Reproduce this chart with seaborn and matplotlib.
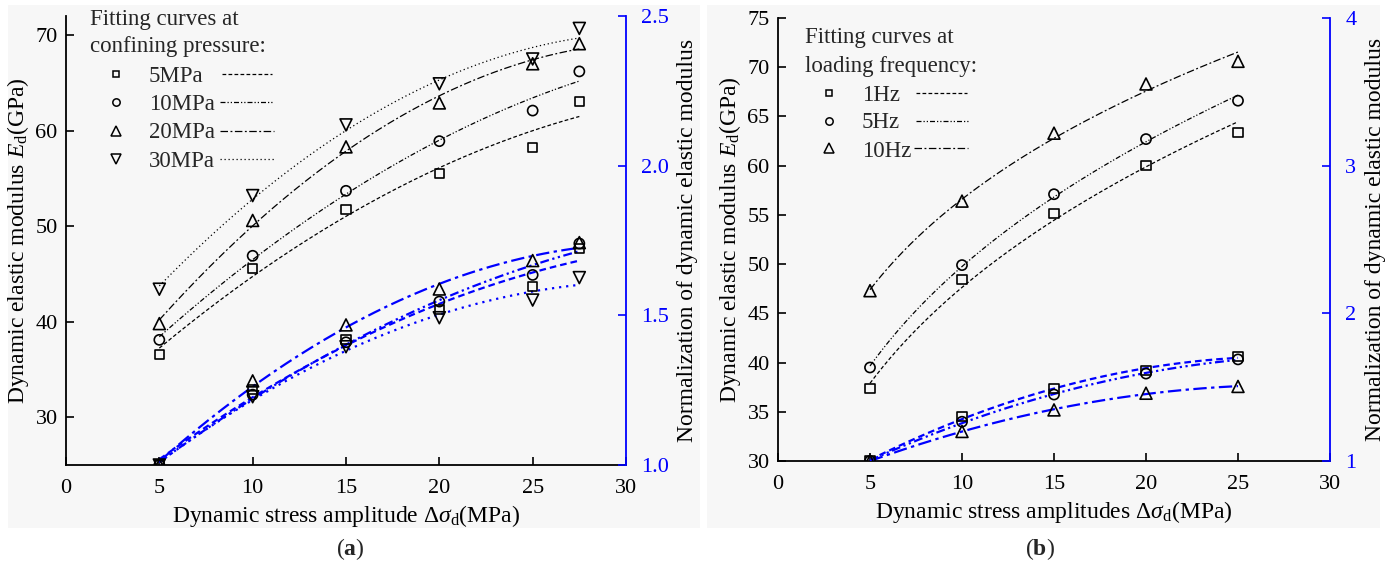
import numpy as np
import matplotlib
matplotlib.use("Agg")
import matplotlib.pyplot as plt
import seaborn as sns
from matplotlib.patches import Rectangle

# ---- (a) confining pressure series ----
stress_a = [5, 10, 15, 20, 25, 27.5]
pressure_labels = ["5MPa", "10MPa", "20MPa", "30MPa"]
ed_5mpa = [36.6, 45.6, 51.7, 55.5, 58.2, 63.0]
ed_10mpa = [38.1, 46.9, 53.7, 58.9, 62.1, 66.2]
ed_20mpa = [39.8, 50.6, 58.3, 62.9, 67.0, 69.1]
ed_30mpa = [43.4, 53.2, 60.6, 64.9, 67.5, 70.7]
norm_5mpa = [1.0, 1.253, 1.418, 1.518, 1.596, 1.724]
norm_10mpa = [1.0, 1.235, 1.410, 1.546, 1.635, 1.740]
norm_20mpa = [1.0, 1.281, 1.468, 1.588, 1.683, 1.743]
norm_30mpa = [1.0, 1.228, 1.395, 1.492, 1.551, 1.626]

# ---- (b) loading frequency series ----
stress_b = [5, 10, 15, 20, 25]
freq_labels = ["1Hz", "5Hz", "10Hz"]
ed_1hz = [37.4, 48.4, 55.1, 60.0, 63.4]
ed_5hz = [39.5, 49.9, 57.1, 62.7, 66.6]
ed_10hz = [47.3, 56.4, 63.3, 68.3, 70.6]
norm_1hz = [1.0, 1.300, 1.489, 1.615, 1.706]
norm_5hz = [1.0, 1.266, 1.450, 1.592, 1.688]
norm_10hz = [1.0, 1.200, 1.346, 1.459, 1.505]

BLUE = "#0000ff"
SERIF = "Liberation Serif"

sns.set_theme(style="ticks")
plt.rcParams["font.family"] = [SERIF, "DejaVu Serif"]
plt.rcParams["mathtext.fontset"] = "custom"
plt.rcParams["mathtext.rm"] = SERIF
plt.rcParams["mathtext.it"] = SERIF + ":italic"
plt.rcParams["mathtext.bf"] = SERIF + ":bold"

LABEL_FS = 17
TICK_FS = 16
KEY_FS = 16.5

# marker shape -> (scatter size pt, key marker size pt)
MARKERS = {
    "s": (6.5, 5.0),
    "o": (7.3, 5.3),
    "^": (8.6, 6.5),
    "v": (8.6, 6.5),
}
STYLES = {
    "dash": (0, (3, 1.8)),
    "dashdotdot": (0, (4, 1.6, 1, 1.6, 1, 1.6)),
    "dashdot": (0, (6, 2, 1.5, 2)),
    "dot": (0, (1, 2.2)),
}

W, H = 1386, 567
fig = plt.figure(figsize=(W / 100, H / 100), dpi=100)
fig.patch.set_facecolor("white")

# light panel backgrounds
for x0, x1 in [(8, 700), (707, 1380)]:
    fig.add_artist(Rectangle((x0 / W, 1 - 528 / H), (x1 - x0) / W, (528 - 5) / H,
                             transform=fig.transFigure, facecolor="#f7f7f7",
                             edgecolor="none", zorder=-10))


def to_axes(px_box):
    l, t, r, b = px_box
    return [l / W, 1 - b / H, (r - l) / W, (b - t) / H]


def rticks_fmt(ticks):
    if all(float(t).is_integer() for t in ticks):
        return [f"{int(t)}" for t in ticks]
    return [f"{t:.1f}" for t in ticks]


def quad_fit(xs, ys, xfit):
    return np.polyval(np.polyfit(xs, ys, 2), xfit)


def power_fit(xs, ys, xfit):
    b, loga = np.polyfit(np.log(xs), np.log(ys), 1)
    return np.exp(loga) * xfit ** b


def draw_panel(box, xs, ed_series, norm_series, labels, markers, styles,
               ylim, yticks, rlim, rticks, xlabel, legend_title, leg, ed_fit):
    ax = fig.add_axes(to_axes(box))
    ax.set_facecolor("none")
    ax2 = ax.twinx()
    ax2.set_facecolor("none")
    xfit = np.linspace(xs[0], xs[-1], 200)

    for ed, nm, m, st in zip(ed_series, norm_series, markers, styles):
        size = MARKERS[m][0]
        sns.lineplot(x=xfit, y=ed_fit(xs, ed, xfit), ax=ax, color="black",
                     linewidth=0.9, linestyle=STYLES[st])
        sns.lineplot(x=xfit, y=quad_fit(xs, nm, xfit), ax=ax2, color=BLUE,
                     linewidth=1.6, linestyle=STYLES[st])
        ax.scatter(xs, ed, marker=m, s=size ** 2, facecolors="none",
                   edgecolors="black", linewidths=1.2, zorder=3)
        ax2.scatter(xs, nm, marker=m, s=size ** 2, facecolors="none",
                    edgecolors="black", linewidths=1.2, zorder=3)

    ax.set_xlim(0, 30)
    ax.set_xticks([0, 5, 10, 15, 20, 25, 30])
    ax.set_ylim(*ylim)
    ax.set_yticks(yticks)
    ax2.set_ylim(*rlim)
    ax2.set_yticks(rticks)
    ax2.set_yticklabels(rticks_fmt(rticks))

    for a in (ax, ax2):
        a.spines["top"].set_visible(False)
        a.grid(False)
    ax.spines["right"].set_visible(False)
    ax2.spines["left"].set_visible(False)
    ax2.spines["bottom"].set_visible(False)
    ax2.spines["right"].set_color(BLUE)
    ax2.spines["right"].set_linewidth(1.3)
    ax.spines["left"].set_linewidth(1.3)
    ax.spines["bottom"].set_linewidth(1.3)
    ax.spines["left"].set_color("black")
    ax.spines["bottom"].set_color("black")

    ax.tick_params(axis="y", direction="in", length=6, width=1.2,
                   colors="black", labelsize=TICK_FS, pad=6)
    ax.tick_params(axis="x", direction="in", length=6, width=1.2,
                   colors="black", labelsize=TICK_FS, pad=10)
    ax2.tick_params(axis="y", direction="in", length=6, width=1.2,
                    colors=BLUE, labelcolor=BLUE, labelsize=TICK_FS, pad=11)

    ax.set_xlabel(xlabel, fontsize=LABEL_FS, labelpad=4, color="black")
    ax.set_ylabel(r"Dynamic elastic modulus $E_\mathrm{d}$(GPa)", fontsize=LABEL_FS,
                  labelpad=3, color="black")
    ax2.set_ylabel("Normalization of dynamic elastic modulus", fontsize=LABEL_FS,
                   labelpad=6, color="black")

    # hand-built key: marker, label, line sample
    tx = ax.transAxes
    ax.text(leg["tx"], leg["t1"], legend_title[0], transform=tx, fontsize=KEY_FS,
            va="baseline", ha="left", clip_on=False)
    ax.text(leg["tx"], leg["t2"], legend_title[1], transform=tx, fontsize=KEY_FS,
            va="baseline", ha="left", clip_on=False)
    for i, (lab, m, st) in enumerate(zip(labels, markers, styles)):
        ym = leg["my"][i]
        ax.plot([leg["mx"]], [ym], marker=m, markersize=MARKERS[m][1],
                markerfacecolor="none", markeredgecolor="black",
                markeredgewidth=1.1, transform=tx, clip_on=False, linestyle="none")
        ax.text(leg["lx"], leg["ly"][i], lab, transform=tx, fontsize=KEY_FS,
                va="baseline", ha="left", clip_on=False)
        ax.plot(leg["line"][i], [ym, ym], color="black", linewidth=0.9,
                linestyle=STYLES[st], transform=tx, clip_on=False)
    return ax, ax2


# panel (a)
box_a = (66, 16, 626, 465)
ya = lambda y: (465 - y) / 449
xa = lambda x: (x - 66) / 560
draw_panel(
    box_a, stress_a,
    [ed_5mpa, ed_10mpa, ed_20mpa, ed_30mpa],
    [norm_5mpa, norm_10mpa, norm_20mpa, norm_30mpa],
    pressure_labels, ["s", "o", "^", "v"],
    ["dash", "dashdotdot", "dashdot", "dot"],
    (25, 72), [30, 40, 50, 60, 70], (1.0, 2.5), [1.0, 1.5, 2.0, 2.5],
    r"Dynamic stress amplitude $\Delta\sigma_\mathrm{d}$(MPa)",
    ("Fitting curves at", "confining pressure:"),
    dict(tx=xa(90), t1=ya(25), t2=ya(52), mx=xa(116), lx=xa(149),
         my=[ya(74), ya(102), ya(131), ya(159)],
         ly=[ya(82), ya(110), ya(138), ya(167)],
         line=[[xa(222), xa(272)], [xa(220), xa(274)],
               [xa(220), xa(274)], [xa(220), xa(274)]]),
    quad_fit,
)

# panel (b)
box_b = (778, 18, 1330, 461)
yb = lambda y: (461 - y) / 443
xb = lambda x: (x - 778) / 552
draw_panel(
    box_b, stress_b,
    [ed_1hz, ed_5hz, ed_10hz],
    [norm_1hz, norm_5hz, norm_10hz],
    freq_labels, ["s", "o", "^"],
    ["dash", "dashdotdot", "dashdot"],
    (30, 75), [30, 35, 40, 45, 50, 55, 60, 65, 70, 75], (1, 4), [1, 2, 3, 4],
    r"Dynamic stress amplitudes $\Delta\sigma_\mathrm{d}$(MPa)",
    ("Fitting curves at", "loading frequency:"),
    dict(tx=xb(805), t1=yb(43), t2=yb(72), mx=xb(829), lx=xb(862),
         my=[yb(93), yb(121), yb(148)],
         ly=[yb(101), yb(128), yb(157)],
         line=[[xb(916), xb(967)], [xb(916), xb(968)], [xb(914), xb(968)]]),
    power_fit,
)

fig.text(350 / W, 1 - 549 / H, r"($\mathbf{a}$)", fontsize=17, ha="center", va="center")
fig.text(1040 / W, 1 - 549 / H, r"($\mathbf{b}$)", fontsize=17, ha="center", va="center")

fig.savefig("out.png", dpi=100, facecolor="white")
